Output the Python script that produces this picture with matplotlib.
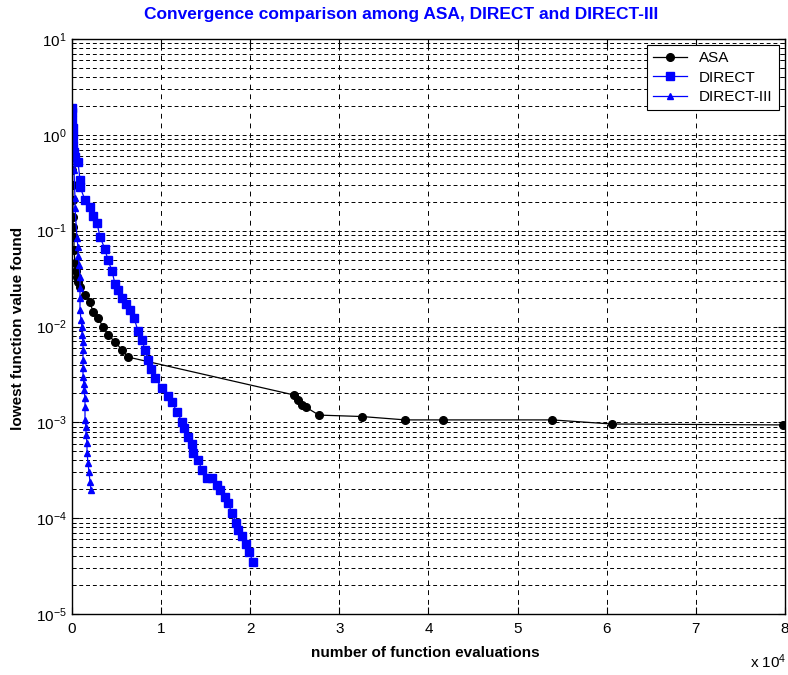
import matplotlib
matplotlib.use('Agg')
import matplotlib.pyplot as plt
from matplotlib.ticker import FixedLocator, FuncFormatter, LogLocator, NullFormatter

plt.rcParams['font.family'] = ['Liberation Sans', 'DejaVu Sans']
plt.rcParams['mathtext.fontset'] = 'custom'
plt.rcParams['mathtext.rm'] = 'Liberation Sans'
plt.rcParams['mathtext.default'] = 'regular'
plt.rcParams['axes.unicode_minus'] = False

# ASA
asa_x = [0, 0, 0, 50, 80, 112, 112, 150, 224, 224, 337, 450, 561, 673, 898,
         1459, 2020, 2357, 2918, 3479, 4040, 4826, 5612, 6285,
         24900, 25400, 25800, 26300, 27700, 32500, 37400, 41600, 53900, 60600, 79800]
asa_y = [1.27, 0.88, 0.62, 0.43, 0.30, 0.21, 0.139, 0.11, 0.086, 0.063, 0.046, 0.038, 0.033, 0.029, 0.026,
         0.0213, 0.018, 0.0142, 0.0123, 0.0099, 0.0082, 0.0069, 0.0057, 0.0048,
         0.00193, 0.00171, 0.0015, 0.00143, 0.00119, 0.00115, 0.00106, 0.00106, 0.00106, 0.00096, 0.00094]

# DIRECT
direct_x = [0, 0, 0, 112, 112, 112, 224, 337, 673, 898, 898, 1459, 2020, 2357, 2806,
            3143, 3704, 4040, 4489, 4826, 5163, 5612, 6061, 6510, 6958, 7407, 7856,
            8193, 8530, 8866, 9315, 10101, 10774, 11223, 11785, 12346, 12570, 13019,
            13468, 13580, 14141, 14590, 15152, 15713, 16274, 16611, 17172, 17508,
            17957, 18406, 18631, 19080, 19529, 19865, 20314]
direct_y = [1.9, 1.73, 1.43, 1.18, 0.97, 0.78, 0.66, 0.59, 0.52, 0.338, 0.286, 0.209, 0.177, 0.142, 0.120,
            0.086, 0.064, 0.049, 0.038, 0.0277, 0.024, 0.0198, 0.0172, 0.0149, 0.0123, 0.0090, 0.0072,
            0.0057, 0.00447, 0.0036, 0.0029, 0.00228, 0.00188, 0.00163, 0.00128, 0.00101, 0.00087, 0.00070,
            0.00059, 0.00048, 0.00040, 0.00032, 0.000262, 0.000262, 0.000222, 0.000197, 0.000166, 0.000144,
            0.000113, 0.0000889, 0.0000752, 0.0000652, 0.0000537, 0.0000443, 0.0000349]

# DIRECT-III
d3_x = [0, 112, 224, 337, 337, 561, 673, 673, 786, 898, 898, 898, 898, 1010, 1122, 1122,
        1235, 1235, 1235, 1235, 1235, 1347, 1347, 1459, 1459, 1459, 1571, 1571, 1684, 1684,
        1796, 1908, 2020, 2133]
d3_y = [1.82, 0.88, 0.43, 0.219, 0.172, 0.084, 0.067, 0.054, 0.044, 0.033, 0.025, 0.0198, 0.0149, 0.0117,
        0.0099, 0.0082, 0.0069, 0.0057, 0.0045, 0.0037, 0.0030, 0.0025, 0.00217, 0.00179, 0.00145,
        0.00106, 0.00089, 0.00074, 0.00061, 0.00048, 0.00038, 0.00030, 0.00024, 0.000197]

xticks = [0, 10000, 20000, 30000, 40000, 50000, 60000, 70000, 80000]
yticks = [1e-5, 1e-4, 1e-3, 1e-2, 1e-1, 1, 10]

fig = plt.figure(figsize=(7.88, 6.75), dpi=100)
ax = fig.add_axes([72/788, 61/675, 713/788, 575/675])

ax.plot(asa_x, asa_y, '-o', color='black', lw=0.9, ms=5.5, label='ASA')
ax.plot(direct_x, direct_y, '-s', color='blue', lw=0.9, ms=5.5, label='DIRECT')
ax.plot(d3_x, d3_y, '-^', color='blue', lw=0.9, ms=4.5, label='DIRECT-III')

ax.set_yscale('log')
ax.set_xlim(0, 80000)
ax.set_ylim(1e-5, 10)
ax.xaxis.set_major_locator(FixedLocator(xticks))
ax.xaxis.set_major_formatter(FuncFormatter(lambda v, p: '%g' % (v / 1e4)))
ax.yaxis.set_major_locator(FixedLocator(yticks))
ax.yaxis.set_major_formatter(FuncFormatter(lambda v, p: r'$10^{%d}$' % round(__import__('math').log10(v))))
ax.yaxis.set_minor_locator(LogLocator(base=10, subs=range(2, 10), numticks=20))
ax.yaxis.set_minor_formatter(NullFormatter())

ax.grid(True, which='major', axis='x', color='black', lw=0.7, linestyle=(0, (5, 5)))
ax.grid(True, which='both', axis='y', color='black', lw=0.7, linestyle=(0, (4, 3)))
ax.tick_params(which='both', direction='in', top=True, right=True, labelsize=11)
ax.tick_params(which='major', length=5, pad=6)
ax.tick_params(which='minor', length=3)
ax.tick_params(axis='y', pad=4)
for s in ax.spines.values():
    s.set_linewidth(1.0)

leg = ax.legend(loc='upper right', fontsize=11, fancybox=False, framealpha=1,
                edgecolor='black', handlelength=2.2, borderaxespad=0.4,
                labelspacing=0.35, borderpad=0.4)
leg.get_frame().set_linewidth(0.8)

fig.text(401/788, 1 - 15/675, 'Convergence comparison among ASA, DIRECT and DIRECT-III',
         color='blue', fontsize=12.5, fontweight='bold', ha='center', va='center')
fig.text(425/788, 1 - 653/675, 'number of function evaluations',
         fontsize=11, fontweight='bold', ha='center', va='center')
fig.text(18/788, 1 - 328/675, 'lowest function value found', rotation=90,
         fontsize=11, fontweight='bold', ha='center', va='center')
fig.text(786/788, 1 - 662/675, r'x $10^{4}$', fontsize=11, ha='right', va='center')

plt.savefig('out.png', dpi=100)
